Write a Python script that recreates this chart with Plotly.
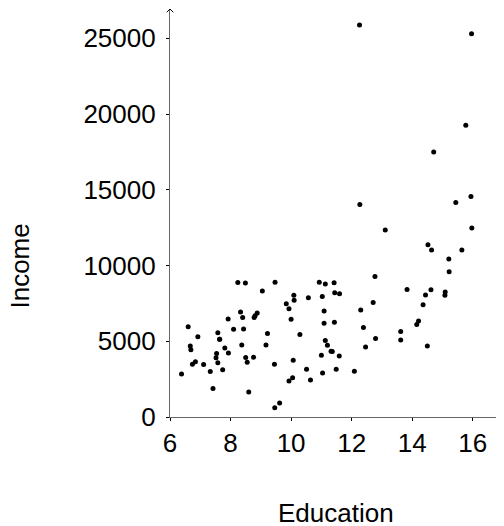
import plotly.graph_objects as go

education = [13.11, 12.26, 12.77, 11.42, 14.62, 15.64, 15.09, 15.44, 14.52, 14.64,
             12.39, 12.30, 13.83, 14.44, 14.36, 14.21, 15.77, 14.15, 15.22, 14.50,
             15.97, 13.62, 15.08, 15.96, 15.94, 14.71, 12.46, 9.45, 13.62, 15.21,
             12.79, 11.09, 12.71, 11.44, 11.59, 11.49, 11.32, 10.64, 11.36, 9.17,
             12.09, 11.04, 9.22, 10.07, 10.51, 11.20, 11.13, 11.43, 11.00, 9.84,
             11.13, 10.05, 9.62, 9.93, 11.60, 11.09, 11.03, 9.47, 10.93, 7.74,
             8.50, 10.57, 9.46, 7.33, 7.11, 7.58, 6.84, 8.60, 8.88, 7.54,
             7.64, 7.64, 7.42, 6.69, 6.74, 10.09, 8.81, 8.40, 7.92, 8.43,
             8.78, 8.76, 10.29, 6.38, 8.10, 10.10, 6.67, 9.05, 9.93, 8.24,
             6.92, 6.60, 7.81, 8.33, 7.52, 12.27, 8.49, 7.58, 7.93, 8.37,
             10.00, 8.55]
income = [12351, 25879, 9271, 8865, 8403, 11030, 8258, 14163, 11377, 11023,
          5902, 7059, 8425, 8049, 7405, 6336, 19263, 6112, 9593, 4686,
          12480, 5648, 8034, 25308, 14558, 17498, 4614, 3485, 5092, 10432,
          5180, 6197, 7562, 8206, 4036, 3148, 4348, 2448, 4330, 4761,
          3016, 2901, 5511, 3739, 3161, 4741, 5052, 6259, 4075, 7482,
          8780, 2594, 918, 2370, 8131, 6992, 7956, 8895, 8891, 3116,
          3930, 7869, 611, 3000, 3472, 3582, 3643, 1656, 6860, 4199,
          5134, 5134, 1890, 4443, 3485, 8043, 6686, 6565, 6477, 5811,
          6573, 3942, 5449, 2847, 5795, 7716, 4696, 8316, 7147, 8880,
          5299, 5959, 4549, 6928, 3910, 14032, 8845, 5562, 4224, 4753,
          6462, 3617]

x_ticks = [6, 8, 10, 12, 14, 16]
x_tick_labels = ["6", "8", "10", "12", "14", "16"]
y_ticks = [0, 5000, 10000, 15000, 20000, 25000]
y_tick_labels = ["0", "5000", "10000", "15000", "20000", "25000"]

font = "Liberation Sans"
axis_col = "#666666"

fig = go.Figure(go.Scatter(
    x=education, y=income, mode="markers",
    marker=dict(color="black", size=5, line=dict(width=0)),
    showlegend=False, cliponaxis=False,
))

fig.update_layout(
    width=496, height=518,
    margin=dict(l=162, r=4, t=1, b=109, autoexpand=False),
    paper_bgcolor="white", plot_bgcolor="white",
    font=dict(family=font, size=26, color="black"),
    xaxis=dict(range=[6, 16.9], tickvals=x_ticks, ticktext=x_tick_labels,
               showgrid=False, zeroline=False, automargin=False,
               showline=True, linecolor=axis_col, linewidth=1.2,
               ticks="outside", ticklen=3, tickcolor="black", tickwidth=1),
    yaxis=dict(range=[0, 26940], tickvals=y_ticks, ticktext=y_tick_labels,
               showgrid=False, zeroline=False, automargin=False,
               showline=True, linecolor=axis_col, linewidth=1.2,
               ticks="outside", ticklen=3, tickcolor="black", tickwidth=1,
               ticklabelstandoff=5),
    annotations=[
        dict(text="Education", xref="paper", yref="paper", x=0.503, y=-0.235,
             xanchor="center", yanchor="middle",
             showarrow=False, font=dict(size=26, family=font)),
        dict(text="Income", xref="paper", yref="paper", x=-0.453, y=0.370,
             xanchor="center", yanchor="middle",
             showarrow=False, textangle=-90, font=dict(size=26, family=font)),
    ],
    shapes=[
        dict(type="path", xref="paper", yref="paper",
             path="M -0.010,0.992 L 0,1 L 0.010,0.992", line=dict(color="black", width=1)),
        dict(type="path", xref="paper", yref="paper",
             path="M 0.992,0.008 L 1,0 L 0.992,-0.008", line=dict(color="black", width=1)),
    ],
)

fig.write_html("out.html")
